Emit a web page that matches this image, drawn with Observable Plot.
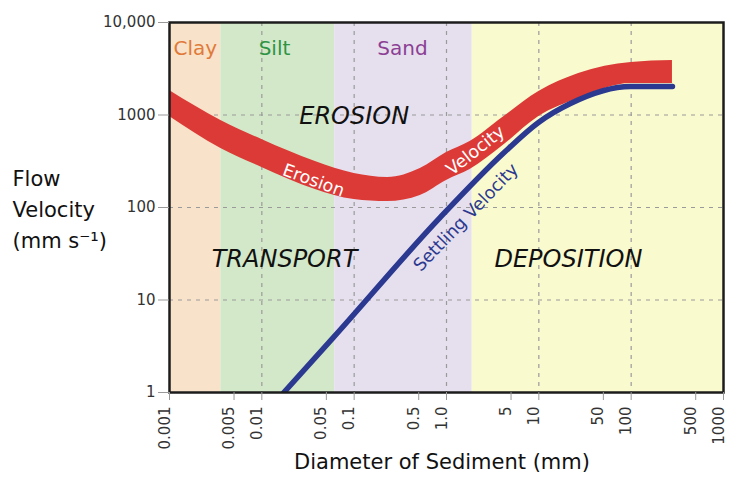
<!DOCTYPE html>
<html><head><meta charset="utf-8">
<script src="https://cdn.jsdelivr.net/npm/d3@7"></script>
<script src="https://cdn.jsdelivr.net/npm/@observablehq/plot@0.6"></script>
<style>body{margin:0;background:#fff;} #chart{width:731px;height:481px;}</style>
</head><body><div id="chart"></div>
<script>
// ---------- data ----------
const xTicks = [0.001, 0.005, 0.01, 0.05, 0.1, 0.5, 1, 5, 10, 50, 100, 500, 1000];
const xTickLabels = ["0.001","0.005","0.01","0.05","0.1","0.5","1.0","5","10","50","100","500","1000"];
const yTicks = [1, 10, 100, 1000, 10000];
const yTickLabels = ["1","10","100","1000","10,000"];
const xGridValues = [0.01, 0.1, 1, 10, 100];
const yGridValues = [10, 100, 1000];

const bandNames = ["Clay", "Silt", "Sand", "Gravel"];
const bandStart = [0.001, 0.0036, 0.0615, 1.9];
const bandEnd   = [0.0036, 0.0615, 1.9, 1000];

const bandLabelNames = ["Clay", "Silt", "Sand"];
const bandLabelX = [0.0019, 0.0137, 0.334];
const bandLabelY = [5236, 5236, 5236];

const regionNames = ["EROSION", "TRANSPORT", "DEPOSITION"];
const regionX = [0.1, 0.0176, 20.9];
const regionY = [963, 27.4, 27.4];

// erosion velocity band (mm s-1)
const erosionDiameter = [0.001, 0.0036, 0.01, 0.038, 0.1, 0.23, 0.52, 1.0, 1.8, 4.1, 10, 27, 100, 280];
const erosionUpper    = [1840, 873, 543, 314, 233, 211, 264, 393, 517, 947, 1795, 2812, 3697, 3880];
const erosionLower    = [963, 434, 271, 157, 122, 116, 135, 196, 257, 468, 963, 1507, 2193, 2193];

// settling velocity (mm s-1)
const settlingDiameter = [0.0173, 0.06, 0.86, 4.1, 10, 22, 98, 280];
const settlingVelocity = [1, 3.96, 78.6, 383, 836, 1331, 2033, 2033];

// labels along the curves
const curveLabelText = ["Erosion", "Velocity", "Settling Velocity"];
const curveLabelX = [0.0363, 2.06, 1.62];
const curveLabelY = [196, 413, 78];
const curveLabelAngle = [20, -38, -46];

// ---------- styles ----------
const bandFill = {Clay: "#f8e2c9", Silt: "#d2e8c8", Sand: "#e6dfed", Gravel: "#fafacf"};
const bandText = {Clay: "#e07a3a", Silt: "#2f9346", Sand: "#8c3f95"};
const RED = "#dc3a36", BLUE = "#2b3990";

// ---------- tables ----------
const bands = bandNames.map((n, i) => ({name: n, start: bandStart[i], end: bandEnd[i]}));
const bandLabels = bandLabelNames.map((n, i) => ({name: n, x: bandLabelX[i], y: bandLabelY[i]}));
const regions = regionNames.map((n, i) => ({name: n, x: regionX[i], y: regionY[i]}));
const erosion = erosionDiameter.map((d, i) => ({d, hi: erosionUpper[i], lo: erosionLower[i]}));
const settling = settlingDiameter.map((d, i) => ({d, v: settlingVelocity[i]}));
const curveLabels = curveLabelText.map((t, i) => ({t, x: curveLabelX[i], y: curveLabelY[i], a: curveLabelAngle[i]}));
const yLab = new Map(yTicks.map((v, i) => [v, yTickLabels[i]]));

const chart = Plot.plot({
  width: 731, height: 481,
  marginLeft: 169, marginRight: 8, marginTop: 22, marginBottom: 89,
  style: {fontFamily: "DejaVu Sans, sans-serif", fontSize: "15px", background: "#fff", overflow: "visible"},
  x: {type: "log", domain: [0.001, 1000]},
  y: {type: "log", domain: [1, 10000]},
  color: {type: "identity"},
  marks: [
    Plot.rect(bands, {x1: "start", x2: "end", fill: d => bandFill[d.name]}),
    Plot.gridX(xGridValues, {stroke: "#9a9a9a", strokeOpacity: 1, strokeDasharray: "4,5", strokeWidth: 1.2}),
    Plot.gridY(yGridValues, {stroke: "#9a9a9a", strokeOpacity: 1, strokeDasharray: "4,5", strokeWidth: 1.2}),
    Plot.text(bandLabels, {x: "x", y: "y", text: "name", fill: d => bandText[d.name], fontSize: 20}),
    Plot.text(regions, {x: "x", y: "y", text: "name", fontStyle: "italic", fontSize: 24, fill: "#111"}),
    Plot.areaY(erosion, {x: "d", y1: "lo", y2: "hi", fill: RED, curve: "monotone-x"}),
    Plot.line(settling, {x: "d", y: "v", stroke: BLUE, strokeWidth: 5.5, curve: "monotone-x", clip: true}),
    Plot.text(curveLabels.slice(0, 2), {x: "x", y: "y", text: "t", rotate: "a", fill: "#fff", fontSize: 17.5}),
    Plot.text(curveLabels.slice(2), {x: "x", y: "y", text: "t", rotate: "a", fill: BLUE, fontSize: 17.5}),
    Plot.frame({stroke: "#1c1c1c", strokeWidth: 2.5}),
    Plot.axisY(yTicks, {tickFormat: d => yLab.get(d), tickSize: 11, tickPadding: 3, fontSize: 15, stroke: "#999", fill: "#333", label: null}),
    Plot.axisX(xTicks, {tickFormat: () => "", tickSize: 8, stroke: "#999", label: null}),
    Plot.text(xTicks, {x: d => d, text: (d, i) => xTickLabels[i], frameAnchor: "bottom", dy: 14, rotate: -90, textAnchor: "end", fontSize: 15, fill: "#333"}),
    Plot.text(["Diameter of Sediment (mm)"], {text: d => d, frameAnchor: "bottom", dy: 76, dx: -4.5, fontSize: 21, fill: "#111"}),
    Plot.text(["Flow\nVelocity\n(mm s\u207B\u00B9)"], {text: d => d, frameAnchor: "left", dx: -157, textAnchor: "start", fontSize: 21, lineHeight: 1.476, fill: "#111"})
  ]
});
document.getElementById("chart").appendChild(chart);
</script></body></html>
